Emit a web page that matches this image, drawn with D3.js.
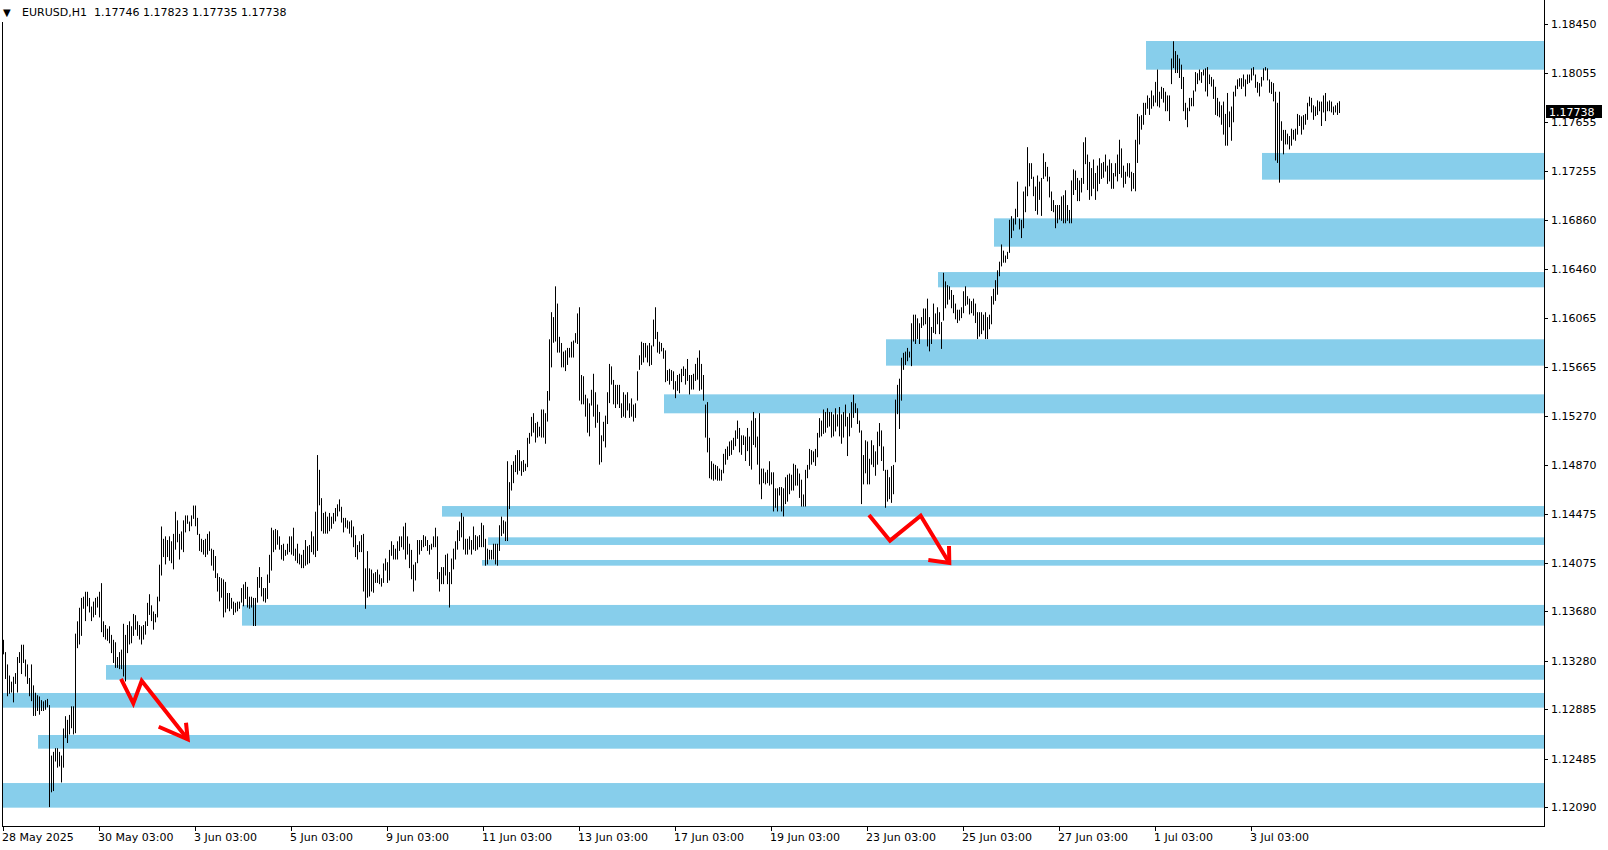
<!DOCTYPE html>
<html><head><meta charset="utf-8">
<script src="https://cdn.jsdelivr.net/npm/d3@7"></script>
<style>html,body{margin:0;padding:0;background:#fff;overflow:hidden}</style>
</head><body><svg id="c" width="1608" height="850"></svg>
<script>
// ---------- DATA ----------
const symbolLabel = "EURUSD,H1";
const lastOHLC = [1.17746, 1.17823, 1.17735, 1.17738];

const highs = [
1.1345,1.1335,1.1325,1.1316,1.1311,1.1315,1.1318,1.1331,1.1335,1.1341,
1.1341,1.1329,1.1325,1.1314,1.1325,1.1308,1.1302,1.1300,1.1299,1.1296,
1.1295,1.1296,1.1297,1.1292,1.1251,1.1254,1.1257,1.1257,1.1254,1.1251,
1.1273,1.1283,1.1280,1.1284,1.1291,1.1291,1.1350,1.1360,1.1371,1.1379,
1.1380,1.1384,1.1384,1.1379,1.1372,1.1376,1.1379,1.1380,1.1384,1.1391,
1.1360,1.1357,1.1354,1.1356,1.1349,1.1345,1.1343,1.1331,1.1335,1.1337,
1.1358,1.1349,1.1357,1.1360,1.1356,1.1366,1.1365,1.1360,1.1357,1.1356,
1.1357,1.1360,1.1375,1.1382,1.1373,1.1368,1.1366,1.1380,1.1406,1.1437,
1.1427,1.1429,1.1426,1.1429,1.1425,1.1431,1.1449,1.1442,1.1431,1.1433,
1.1442,1.1446,1.1446,1.1441,1.1446,1.1454,1.1454,1.1444,1.1431,1.1427,
1.1426,1.1427,1.1431,1.1433,1.1419,1.1418,1.1413,1.1399,1.1396,1.1395,
1.1394,1.1392,1.1383,1.1383,1.1379,1.1376,1.1375,1.1376,1.1376,1.1387,
1.1390,1.1392,1.1388,1.1380,1.1380,1.1379,1.1379,1.1396,1.1404,1.1396,
1.1387,1.1387,1.1398,1.1414,
1.1436,1.1434,1.1435,1.1434,1.1429,1.1422,1.1423,1.1418,1.1423,1.1429,
1.1429,1.1436,1.1419,1.1423,1.1415,1.1414,1.1418,1.1426,1.1421,1.1422,
1.1433,1.1429,1.1449,1.1495,1.1483,1.1460,1.1448,1.1449,1.1445,1.1448,
1.1445,1.1448,1.1452,1.1455,1.1459,1.1453,1.1444,1.1444,1.1442,1.1441,
1.1442,1.1437,1.1430,1.1422,1.1425,1.1430,1.1431,1.1403,1.1417,1.1403,
1.1402,1.1399,1.1400,1.1402,1.1398,1.1395,1.1407,1.1411,1.1408,1.1418,
1.1425,1.1422,1.1419,1.1425,1.1429,1.1429,1.1437,1.1440,1.1429,1.1423,
1.1418,1.1406,1.1408,1.1426,1.1426,1.1426,1.1430,1.1429,1.1426,1.1422,
1.1423,1.1429,1.1436,1.1429,1.1400,1.1404,1.1404,1.1414,1.1415,1.1400,
1.1411,1.1419,1.1425,1.1434,1.1441,1.1448,1.1445,1.1427,1.1427,1.1429,
1.1426,1.1437,1.1430,1.1429,1.1430,1.1440,1.1438,1.1427,1.1419,1.1418,
1.1418,1.1423,1.1423,1.1423,1.1438,1.1445,1.1442,1.1441,1.1490,1.1473,
1.1487,1.1490,1.1495,1.1499,1.1499,1.1490,1.1491,1.1488,1.1509,1.1513,
1.1526,1.1529,1.1521,1.1522,1.1518,1.1532,1.1532,
1.1529,1.1547,1.1589,1.1611,1.1607,1.1632,1.1618,1.1591,1.1586,1.1579,
1.1580,1.1582,1.1582,1.1587,1.1588,1.1594,1.1610,1.1615,1.1560,1.1559,
1.1544,1.1541,1.1537,1.1548,1.1561,1.1546,1.1536,1.1530,1.1511,1.1522,
1.1527,1.1546,1.1569,1.1567,1.1556,1.1552,1.1552,1.1552,1.1537,1.1546,
1.1544,1.1546,1.1537,1.1541,1.1536,1.1537,1.1563,1.1576,1.1587,1.1586,
1.1586,1.1584,1.1586,1.1584,1.1605,1.1615,1.1595,1.1587,1.1586,1.1582,
1.1580,1.1564,1.1565,1.1564,1.1563,1.1555,1.1560,1.1561,1.1565,1.1567,
1.1565,1.1573,1.1560,1.1560,1.1561,1.1569,1.1574,1.1580,1.1569,1.1560,
1.1536,1.1538,1.1509,1.1490,1.1488,1.1487,1.1486,1.1484,1.1483,1.1496,
1.1500,1.1502,1.1506,1.1507,1.1509,1.1515,1.1523,1.1517,1.1511,1.1511,
1.1510,1.1517,1.1510,1.1523,1.1530,1.1525,1.1510,1.1529,1.1484,1.1484,
1.1481,1.1483,1.1490,1.1481,1.1481,1.1468,1.1468,1.1469,1.1469,1.1468,
1.1477,1.1479,1.1480,1.1479,1.1488,1.1487,1.1484,1.1480,1.1475,1.1463,
1.1483,1.1487,1.1500,1.1499,1.1498,1.1500,1.1513,1.1525,
1.1523,1.1532,1.1530,1.1533,1.1530,1.1530,1.1528,1.1533,1.1528,1.1534,
1.1528,1.1530,1.1536,1.1526,1.1529,1.1538,1.1544,1.1537,1.1533,1.1523,
1.1515,1.1495,1.1507,1.1506,1.1492,1.1507,1.1503,1.1498,1.1514,1.1521,
1.1515,1.1502,1.1483,1.1483,1.1477,1.1486,1.1487,1.1540,1.1552,1.1557,
1.1574,1.1578,1.1579,1.1582,1.1579,1.1602,1.1609,1.1609,1.1606,1.1602,
1.1607,1.1614,1.1614,1.1622,1.1607,1.1599,1.1618,1.1610,1.1615,1.1611,
1.1603,1.1643,1.1636,1.1633,1.1632,1.1629,1.1625,1.1618,1.1613,1.1613,
1.1615,1.1628,1.1632,1.1624,1.1622,1.1620,1.1622,1.1618,1.1611,1.1611,
1.1611,1.1609,1.1611,1.1607,1.1609,1.1624,1.1630,1.1637,1.1645,1.1652,
1.1666,1.1661,1.1657,1.1660,1.1686,1.1689,1.1687,1.1695,1.1717,1.1687,
1.1686,1.1709,1.1713,1.1745,1.1732,1.1732,1.1721,1.1713,1.1722,1.1717,
1.1720,1.1740,1.1733,1.1729,1.1721,1.1709,1.1702,1.1698,1.1698,1.1698,
1.1705,1.1706,1.1710,1.1698,1.1694,1.1718,1.1727,1.1726,1.1720,1.1718,
1.1720,1.1749,1.1753,1.1739,1.1733,
1.1728,1.1735,1.1724,1.1730,1.1736,
1.1732,1.1733,1.1739,1.1730,1.1735,1.1732,1.1724,1.1732,1.1739,1.1751,
1.1744,1.1730,1.1725,1.1732,1.1732,1.1725,1.1724,1.1751,1.1772,1.1770,
1.1771,1.1781,1.1781,1.1787,1.1785,1.1791,1.1787,1.1798,1.1808,1.1790,
1.1794,1.1793,1.1790,1.1787,1.1787,1.1817,1.1831,1.1823,1.1820,1.1817,
1.1812,1.1802,1.1781,1.1777,1.1785,1.1785,1.1791,1.1806,1.1805,1.1808,
1.1806,1.1808,1.1809,1.1810,1.1804,1.1802,1.1800,1.1794,1.1785,1.1782,
1.1779,1.1782,1.1772,1.1789,1.1774,1.1778,1.1790,1.1795,1.1800,1.1801,
1.1801,1.1804,1.1800,1.1804,1.1804,1.1809,1.1810,1.1804,1.1798,1.1797,
1.1802,1.1809,1.1810,1.1809,1.1800,1.1798,1.1797,1.1790,1.1781,1.1790,
1.1766,1.1759,1.1759,1.1756,1.1754,1.1760,1.1759,1.1760,1.1772,1.1771,
1.1770,1.1771,1.1772,1.1781,1.1786,1.1785,1.1779,1.1778,1.1783,1.1782,
1.1782,1.1787,1.1789,1.1782,1.1783,1.1782,1.1778,1.1779,1.1781,1.17823
];

const lows = [
1.1334,1.1314,1.1300,1.1302,1.1303,1.1295,1.1310,1.1303,1.1327,1.1318,
1.1327,1.1316,1.1310,1.1300,1.1296,1.1284,1.1284,1.1288,1.1285,1.1288,
1.1288,1.1289,1.1291,1.1210,1.1222,1.1223,1.1247,1.1242,1.1243,1.1230,
1.1242,1.1266,1.1262,1.1269,1.1274,1.1269,1.1270,1.1339,1.1342,1.1349,
1.1371,1.1361,1.1373,1.1368,1.1361,1.1364,1.1366,1.1372,1.1364,1.1352,
1.1348,1.1346,1.1345,1.1343,1.1335,1.1327,1.1323,1.1323,1.1322,1.1322,
1.1316,1.1312,1.1335,1.1342,1.1343,1.1349,1.1354,1.1349,1.1346,1.1342,
1.1346,1.1350,1.1357,1.1366,1.1361,1.1354,1.1360,1.1364,1.1377,1.1398,
1.1413,1.1407,1.1413,1.1410,1.1408,1.1403,1.1419,1.1425,1.1411,1.1419,
1.1417,1.1433,1.1440,1.1434,1.1438,1.1444,1.1438,1.1431,1.1418,1.1417,
1.1415,1.1413,1.1415,1.1418,1.1406,1.1402,1.1396,1.1385,1.1377,1.1380,
1.1364,1.1368,1.1371,1.1369,1.1371,1.1366,1.1368,1.1369,1.1371,1.1376,
1.1373,1.1379,1.1372,1.1371,1.1372,1.1357,1.1357,1.1376,1.1388,1.1381,
1.1377,1.1376,1.1379,1.1392,
1.1402,1.1417,1.1419,1.1423,1.1419,1.1411,1.1410,1.1414,1.1415,1.1417,
1.1415,1.1414,1.1410,1.1408,1.1407,1.1404,1.1404,1.1406,1.1407,1.1408,
1.1417,1.1415,1.1413,1.1418,1.1455,1.1434,1.1432,1.1432,1.1432,1.1434,
1.1436,1.1440,1.1442,1.1446,1.1450,1.1441,1.1433,1.1437,1.1436,1.1432,
1.1429,1.1421,1.1413,1.1411,1.1417,1.1417,1.1385,1.1371,1.1380,1.1381,
1.1385,1.1384,1.1392,1.1392,1.1391,1.1389,1.1392,1.1402,1.1392,1.1394,
1.1414,1.1411,1.1411,1.1411,1.1418,1.1421,1.1419,1.1411,1.1415,1.1404,
1.1395,1.1385,1.1394,1.1408,1.1415,1.1418,1.1421,1.1422,1.1418,1.1415,
1.1419,1.1421,1.1421,1.1395,1.1385,1.1391,1.1391,1.1398,1.1391,1.1372,
1.1391,1.1403,1.1411,1.1419,1.1426,1.1429,1.1419,1.1415,1.1415,1.1419,
1.1415,1.1419,1.1418,1.1419,1.1421,1.1421,1.1421,1.1406,1.1407,1.1411,
1.1411,1.1411,1.1407,1.1406,1.1418,1.1430,1.1432,1.1426,1.1426,1.1452,
1.1467,1.1473,1.1482,1.1480,1.1483,1.1479,1.1482,1.1483,1.1486,1.1505,
1.1511,1.1514,1.1506,1.1510,1.1511,1.1510,1.1510,
1.1505,1.1523,1.1540,1.1567,1.1587,1.1588,1.1579,1.1579,1.1567,1.1567,
1.1564,1.1569,1.1575,1.1575,1.1575,1.1587,1.1586,1.1540,1.1537,1.1537,
1.1527,1.1514,1.1511,1.1536,1.1527,1.1518,1.1522,1.1488,1.1490,1.1507,
1.1502,1.1521,1.1538,1.1553,1.1537,1.1534,1.1537,1.1534,1.1526,1.1527,
1.1526,1.1532,1.1526,1.1527,1.1523,1.1526,1.1540,1.1565,1.1569,1.1571,
1.1575,1.1571,1.1568,1.1569,1.1584,1.1590,1.1579,1.1578,1.1580,1.1574,
1.1555,1.1556,1.1553,1.1556,1.1549,1.1542,1.1548,1.1546,1.1555,1.1560,
1.1553,1.1556,1.1545,1.1549,1.1549,1.1556,1.1557,1.1548,1.1549,1.1540,
1.1510,1.1498,1.1477,1.1476,1.1475,1.1476,1.1475,1.1475,1.1475,1.1481,
1.1488,1.1492,1.1495,1.1496,1.1500,1.1503,1.1509,1.1498,1.1496,1.1504,
1.1491,1.1499,1.1487,1.1484,1.1504,1.1502,1.1488,1.1472,1.1460,1.1473,
1.1472,1.1473,1.1471,1.1472,1.1450,1.1453,1.1450,1.1463,1.1450,1.1446,
1.1456,1.1458,1.1464,1.1467,1.1467,1.1471,1.1471,1.1461,1.1454,1.1454,
1.1454,1.1477,1.1484,1.1488,1.1490,1.1487,1.1494,1.1510,
1.1511,1.1513,1.1514,1.1518,1.1519,1.1510,1.1511,1.1515,1.1519,1.1511,
1.1505,1.1510,1.1519,1.1495,1.1511,1.1518,1.1526,1.1530,1.1521,1.1514,
1.1456,1.1472,1.1481,1.1472,1.1472,1.1488,1.1486,1.1479,1.1488,1.1503,
1.1491,1.1483,1.1453,1.1458,1.1460,1.1457,1.1464,1.1490,1.1529,1.1517,
1.1540,1.1565,1.1569,1.1572,1.1575,1.1568,1.1588,1.1586,1.1590,1.1586,
1.1599,1.1601,1.1602,1.1584,1.1580,1.1586,1.1595,1.1594,1.1602,1.1594,
1.1582,1.1605,1.1615,1.1618,1.1622,1.1615,1.1611,1.1606,1.1603,1.1605,
1.1607,1.1611,1.1617,1.1618,1.1610,1.1611,1.1609,1.1603,1.1590,1.1592,
1.1594,1.1597,1.1590,1.1590,1.1598,1.1602,1.1618,1.1621,1.1626,1.1641,
1.1649,1.1652,1.1652,1.1655,1.1660,1.1672,1.1678,1.1683,1.1689,1.1679,
1.1672,1.1680,1.1693,1.1706,1.1714,1.1720,1.1706,1.1694,1.1691,1.1703,
1.1690,1.1720,1.1722,1.1718,1.1705,1.1694,1.1693,1.1680,1.1684,1.1687,
1.1686,1.1684,1.1684,1.1686,1.1684,1.1684,1.1707,1.1711,1.1702,1.1702,
1.1709,1.1716,1.1732,1.1711,1.1703,
1.1706,1.1712,1.1703,1.1710,1.1716,
1.1720,1.1721,1.1726,1.1716,1.1718,1.1712,1.1712,1.1722,1.1718,1.1724,
1.1721,1.1713,1.1716,1.1722,1.1721,1.1710,1.1712,1.1710,1.1733,1.1748,
1.1760,1.1764,1.1772,1.1777,1.1772,1.1777,1.1779,1.1782,1.1779,1.1778,
1.1785,1.1782,1.1775,1.1775,1.1767,1.1797,1.1810,1.1806,1.1806,1.1802,
1.1793,1.1775,1.1768,1.1762,1.1775,1.1779,1.1779,1.1791,1.1797,1.1800,
1.1798,1.1804,1.1791,1.1787,1.1797,1.1795,1.1785,1.1772,1.1771,1.1770,
1.1764,1.1756,1.1747,1.1747,1.1762,1.1751,1.1766,1.1787,1.1793,1.1795,
1.1793,1.1795,1.1787,1.1797,1.1798,1.1800,1.1804,1.1794,1.1790,1.1787,
1.1795,1.1800,1.1808,1.1800,1.1790,1.1789,1.1783,1.1735,1.1733,1.1717,
1.1751,1.1740,1.1748,1.1748,1.1744,1.1747,1.1752,1.1751,1.1756,1.1763,
1.1756,1.1760,1.1764,1.1768,1.1779,1.1774,1.1768,1.1771,1.1772,1.1775,
1.1763,1.1774,1.1767,1.1775,1.1775,1.1774,1.1772,1.1774,1.1772,1.17735
];

const xTickIdx = [0,48,96,144,192,240,288,336,384,432,480,528,576,624];
const xTickLabels = ["28 May 2025","30 May 03:00","3 Jun 03:00","5 Jun 03:00","9 Jun 03:00",
  "11 Jun 03:00","13 Jun 03:00","17 Jun 03:00","19 Jun 03:00","23 Jun 03:00",
  "25 Jun 03:00","27 Jun 03:00","1 Jul 03:00","3 Jul 03:00"];
const yTicks = [1.18450,1.18055,1.17655,1.17255,1.16860,1.16460,1.16065,1.15665,1.15270,
  1.14870,1.14475,1.14075,1.13680,1.13280,1.12885,1.12485,1.12090];

// support/resistance zones: start bar, top price, bottom price
const zoneStart  = [572, 630, 496, 468, 442, 331, 220, 243, 240, 120, 52, 0, 18, 0];
const zoneTop    = [1.18312,1.17403,1.16872,1.16436,1.15890,1.15443,1.14536,1.14282,1.14098,1.13733,1.13245,1.13018,1.12677,1.12287];
const zoneBottom = [1.18079,1.17186,1.16642,1.16312,1.15676,1.15289,1.14450,1.14220,1.14052,1.13565,1.13126,1.12899,1.12566,1.12087];

// hand-drawn red arrows: [bar index, price]
const arrowPaths = [
  [[59,1.13132],[65.15,1.12934],[69.35,1.13118],[92.35,1.12642]],
  [[77.85,1.12744],[92.35,1.12642],[91.5,1.12777]],
  [[433,1.14463],[443.5,1.14255],[458.85,1.14458],[473.15,1.14074]],
  [[462.65,1.14098],[473.15,1.14074],[473,1.14212]]
];

// ---------- DRAW ----------
const W = 1608, H = 850;
const plotL = 2, plotR = 1544, plotB = 826;
const svg = d3.select("#c");
svg.append("rect").attr("width", W).attr("height", H).attr("fill", "#fff");

const x = d3.scaleLinear().domain([0, highs.length - 1]).range([3, 3 + 2 * (highs.length - 1)]);
const y = d3.scaleLinear().domain([1.12090, 1.18450]).range([807.3, 24]);

svg.append("clipPath").attr("id", "plot").append("rect")
  .attr("x", plotL).attr("y", 0).attr("width", plotR - plotL).attr("height", plotB);

const g = svg.append("g").attr("clip-path", "url(#plot)");

// zones
g.selectAll("rect.zone").data(zoneStart).join("rect").attr("class", "zone")
  .attr("x", d => Math.max(plotL, x(d) - 1))
  .attr("y", (d, i) => y(zoneTop[i]))
  .attr("width", d => plotR - Math.max(plotL, x(d) - 1))
  .attr("height", (d, i) => y(zoneBottom[i]) - y(zoneTop[i]))
  .attr("fill", "#87ceeb");

// bars (high-low)
g.selectAll("line.bar").data(highs).join("line").attr("class", "bar")
  .attr("x1", (d, i) => x(i) + 0.5).attr("x2", (d, i) => x(i) + 0.5)
  .attr("y1", d => y(d)).attr("y2", (d, i) => y(lows[i]) + 1)
  .attr("stroke", "#000").attr("stroke-width", 1);

// arrows
const line = d3.line().x(d => x(d[0])).y(d => y(d[1]));
g.selectAll("path.arrow").data(arrowPaths).join("path").attr("class", "arrow")
  .attr("d", line).attr("fill", "none").attr("stroke", "#ff0000")
  .attr("stroke-width", 4).attr("stroke-linejoin", "miter").attr("stroke-linecap", "butt");

// frame
svg.append("line").attr("x1", plotL + 0.5).attr("x2", plotL + 0.5).attr("y1", 0).attr("y2", plotB + 0.5).attr("stroke", "#000");
svg.append("line").attr("x1", plotL).attr("x2", plotR + 1).attr("y1", plotB + 0.5).attr("y2", plotB + 0.5).attr("stroke", "#000");
svg.append("line").attr("x1", plotR + 0.5).attr("x2", plotR + 0.5).attr("y1", 0).attr("y2", plotB + 1).attr("stroke", "#000");

const font = "DejaVu Sans, Verdana, sans-serif";

// y axis
const yg = svg.append("g");
yTicks.forEach(t => {
  const yy = Math.round(y(t)) + 0.5;
  yg.append("line").attr("x1", plotR).attr("x2", plotR + 4).attr("y1", yy).attr("y2", yy).attr("stroke", "#000");
  yg.append("text").attr("x", 1551).attr("y", yy).attr("dy", "0.36em")
    .attr("font-family", font).attr("font-size", 11).attr("fill", "#000")
    .text(t.toFixed(5));
});

// x axis
const xg = svg.append("g");
xTickIdx.forEach((t, i) => {
  const xx = Math.round(x(t)) + 0.5;
  xg.append("line").attr("x1", xx).attr("x2", xx).attr("y1", plotB).attr("y2", plotB + 5).attr("stroke", "#000");
  xg.append("text").attr("x", xx - 1.5).attr("y", 841)
    .attr("font-family", font).attr("font-size", 11).attr("fill", "#000")
    .text(xTickLabels[i]);
});

// current price label
const lastClose = lastOHLC[3];
const py = y(lastClose);
svg.append("rect").attr("x", 1546).attr("y", Math.round(py) - 7).attr("width", 56).attr("height", 13).attr("fill", "#000");
svg.append("text").attr("x", 1549).attr("y", py).attr("dy", "0.36em")
  .attr("font-family", font).attr("font-size", 11).attr("fill", "#fff").text(lastClose.toFixed(5));

// header
svg.append("rect").attr("x", 0).attr("y", 0).attr("width", 292).attr("height", 22).attr("fill", "#fff");
svg.append("text").attr("x", 3).attr("y", 16).attr("font-family", font).attr("font-size", 10).attr("fill", "#000").text("▼");
svg.append("text").attr("x", 22).attr("y", 16).attr("font-family", font).attr("font-size", 11).attr("fill", "#000").text(symbolLabel);
svg.append("text").attr("x", 94).attr("y", 16).attr("font-family", font).attr("font-size", 11).attr("fill", "#000")
  .text(lastOHLC.map(v => v.toFixed(5)).join(" "));
</script>
</body></html>
